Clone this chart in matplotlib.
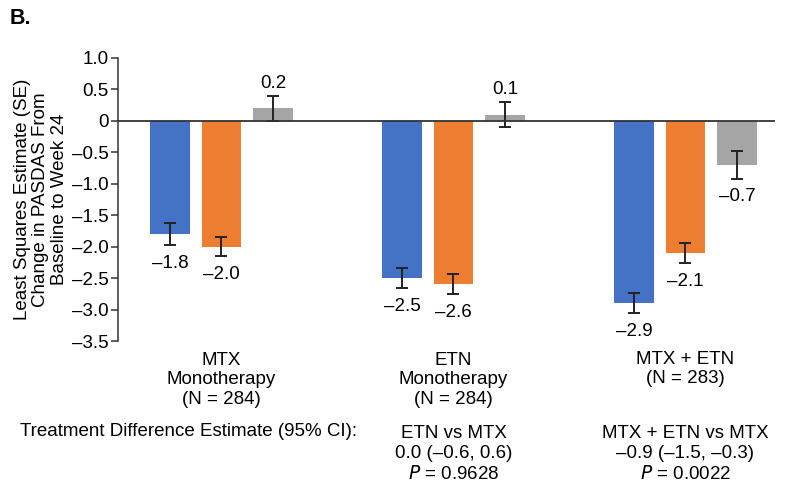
import matplotlib
matplotlib.use("Agg")
import matplotlib.pyplot as plt
from matplotlib.ticker import FixedLocator, FixedFormatter
import numpy as np

plt.rcParams['font.family'] = ['Liberation Sans', 'DejaVu Sans']

# Treatment groups and their annotations
groups = ["MTX\nMonotherapy\n(N = 284)",
          "ETN\nMonotherapy\n(N = 284)",
          "MTX + ETN\n(N = 283)"]
comparisons = ["",
               "ETN vs MTX\n0.0 (–0.6, 0.6)\n$P$ = 0.9628",
               "MTX + ETN vs MTX\n–0.9 (–1.5, –0.3)\n$P$ = 0.0022"]

# LS mean change from baseline (three series per group) and SE
blue_vals = [-1.8, -2.5, -2.9]
orange_vals = [-2.0, -2.6, -2.1]
gray_vals = [0.2, 0.1, -0.7]
blue_se = [0.17, 0.165, 0.16]
orange_se = [0.15, 0.16, 0.16]
gray_se = [0.20, 0.20, 0.22]

yticks = [1.0, 0.5, 0.0, -0.5, -1.0, -1.5, -2.0, -2.5, -3.0, -3.5]
ytick_labels = ["1.0", "0.5", "0", "–0.5", "–1.0", "–1.5", "–2.0", "–2.5", "–3.0", "–3.5"]

colors = ["#4472C4", "#ED7D31", "#A5A5A5"]
FS = 13.5

W, H = 797, 491
fig = plt.figure(figsize=(W / 100, H / 100), dpi=100)
ax = fig.add_axes([118 / W, 1 - 341 / H, (775 - 118) / W, (341 - 58) / H])

x = np.arange(len(groups))
offset = 0.222
width = 0.172
series = [(blue_vals, blue_se), (orange_vals, orange_se), (gray_vals, gray_se)]
for i, (vals, se) in enumerate(series):
    xs = x + (i - 1) * offset
    ax.bar(xs, vals, width=width, color=colors[i], zorder=2)
    ax.errorbar(xs, vals, yerr=se, fmt='none', ecolor='#222222',
                elinewidth=1.4, capsize=4, capthick=1.4, zorder=3)
    for xi, v, s in zip(xs, vals, se):
        lbl = f"{v:.1f}".replace("-", "–")
        if v >= 0:
            ax.annotate(lbl, (xi, v + s), xytext=(0, 3), textcoords='offset points',
                        ha='center', va='bottom', fontsize=FS)
        else:
            ax.annotate(lbl, (xi, v - s), xytext=(0, -7), textcoords='offset points',
                        ha='center', va='top', fontsize=FS)

ax.axhline(0, color='#333333', linewidth=1.3, zorder=4)

ax.set_xlim(-0.446, 2.386)
ax.set_ylim(-3.5, 1.0)
ax.yaxis.set_major_locator(FixedLocator(yticks))
ax.yaxis.set_major_formatter(FixedFormatter(ytick_labels))
ax.tick_params(axis='y', direction='out', length=5, width=1.1, labelsize=FS,
               color='#333333', pad=2)
ax.set_xticks([])
for side in ("top", "right", "bottom"):
    ax.spines[side].set_visible(False)
ax.spines["left"].set_color('#333333')
ax.spines["left"].set_linewidth(1.1)

ax.set_ylabel("Least Squares Estimate (SE)\nChange in PASDAS From\nBaseline to Week 24",
              fontsize=FS, linespacing=1.15, ha='center', va='center')
ax.yaxis.set_label_coords((41 - 118) / 657, 0.5)

# Group names under the axis (vertical positions in figure pixels)
name_centers = [380, 380, 369]
for xi, g, yc in zip(x, groups, name_centers):
    xf = ax.transData.transform((xi, 0))[0] / W
    fig.text(xf, 1 - yc / H, g, ha='center', va='center',
             fontsize=FS, linespacing=1.2)

# Treatment difference rows
fig.text(20 / W, 1 - 432 / H, "Treatment Difference Estimate (95% CI):",
         ha='left', va='center', fontsize=FS)
for xi, c in zip(x, comparisons):
    if c:
        xf = ax.transData.transform((xi, 0))[0] / W
        fig.text(xf, 1 - 454 / H, c, ha='center', va='center',
                 fontsize=FS, linespacing=1.2)

fig.text(10 / W, 1 - 18 / H, "B.", ha='left', va='center', fontsize=15.5,
         fontweight='bold')

fig.savefig("out.png", dpi=100)
